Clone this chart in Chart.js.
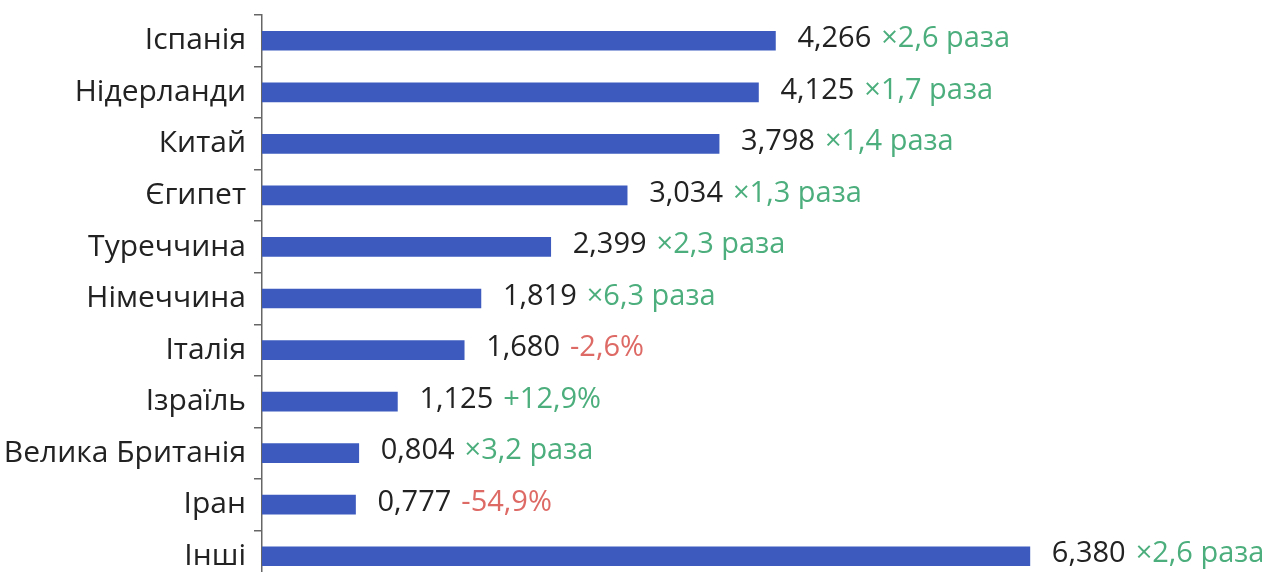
<!DOCTYPE html>
<html>
<head>
<meta charset="utf-8">
<script src="https://cdn.jsdelivr.net/npm/chart.js@4.4.1/dist/chart.umd.min.js"></script>
<style>
  html, body { margin: 0; padding: 0; background: #fff; overflow: hidden; }
  #wrap { position: relative; width: 1279px; height: 619px; margin-top: -11px; }
</style>
</head>
<body>
<div id="wrap"><canvas id="graphPays"></canvas></div>
<script>
// Données
const pays = ["Іспанія", "Нідерланди", "Китай", "Єгипет", "Туреччина", "Німеччина",
              "Італія", "Ізраїль", "Велика Британія", "Іран", "Інші"];
const valeurs = [4.266, 4.125, 3.798, 3.034, 2.399, 1.819, 1.680, 1.125, 0.804, 0.777, 6.380];
const variations = ["×2,6 раза", "×1,7 раза", "×1,4 раза", "×1,3 раза", "×2,3 раза", "×6,3 раза",
                    "-2,6%", "+12,9%", "×3,2 раза", "-54,9%", "×2,6 раза"];
const baisse = [false, false, false, false, false, false, true, false, false, true, false];

const police = "'Open Sans', 'Noto Sans', sans-serif";

// étiquettes à droite des barres
const etiquettes = {
    id: 'etiquettes',
    afterDatasetsDraw(chart) {
        const ctx = chart.ctx;
        const meta = chart.getDatasetMeta(0);
        ctx.save();
        ctx.font = "29px " + police;
        ctx.textBaseline = 'middle';
        ctx.textAlign = 'left';
        meta.data.forEach((bar, i) => {
            const txt = valeurs[i].toFixed(3).replace('.', ',');
            const x = bar.x + 22;
            const y = bar.y - 2;
            ctx.fillStyle = '#222';
            ctx.fillText(txt, x, y);
            const w = ctx.measureText(txt).width;
            ctx.fillStyle = baisse[i] ? '#de6a66' : '#4cae7c';
            ctx.fillText(variations[i], x + w + 10, y);
        });
        ctx.restore();
    }
};

new Chart(document.getElementById('graphPays').getContext('2d'), {
    type: 'bar',
    data: {
        labels: pays,
        datasets: [{
            data: valeurs,
            backgroundColor: '#3d5bbf',
            barThickness: 19
        }]
    },
    options: {
        indexAxis: 'y',
        responsive: true,
        maintainAspectRatio: false,
        animation: false,
        layout: { padding: { top: 6, bottom: 7, left: 0, right: 0 } },
        plugins: { legend: { display: false }, tooltip: { enabled: false } },
        scales: {
            x: { display: false, min: 0, max: 8.45 },
            y: {
                afterFit(scale) { scale.width = 262; },
                border: { display: true, color: '#666', width: 1.5 },
                grid: { drawOnChartArea: false, drawTicks: true, tickLength: 8, color: '#666', lineWidth: 1.5 },
                ticks: { color: '#222', padding: 8, font: { family: police, size: 30 } }
            }
        }
    },
    plugins: [etiquettes]
});
</script>
</body>
</html>
